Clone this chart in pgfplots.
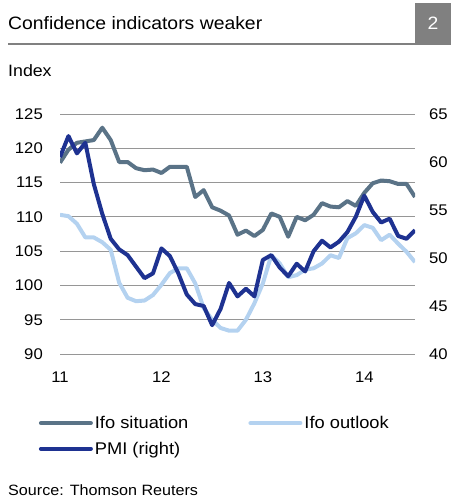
\documentclass[border=0pt]{standalone}
\usepackage{fontspec}
\setmainfont{Liberation Sans}[FakeStretch=1.08]
\usepackage{pgfplots}
\pgfplotsset{compat=1.18}
\definecolor{sit}{RGB}{90,115,135}
\definecolor{outl}{RGB}{180,210,240}
\definecolor{pmi}{RGB}{30,50,145}
\definecolor{gridc}{RGB}{150,150,150}
\definecolor{boxc}{RGB}{128,128,128}
\pgfplotstableread{
i v
0 117.9
1 119.8
2 120.8
3 121.0
4 121.2
5 123.0
6 121.2
7 118.0
8 118.0
9 117.1
10 116.8
11 116.9
12 116.4
13 117.3
14 117.3
15 117.3
16 112.9
17 113.9
18 111.4
19 110.9
20 110.2
21 107.4
22 108.0
23 107.2
24 108.1
25 110.5
26 110.0
27 107.1
28 110.0
29 109.5
30 110.3
31 112.0
32 111.5
33 111.4
34 112.3
35 111.6
36 113.5
37 114.9
38 115.3
39 115.2
40 114.8
41 114.8
42 112.9
}\situation
\pgfplotstableread{
i v
0 110.3
1 110.1
2 109.0
3 107.0
4 107.0
5 106.3
6 105.2
7 100.4
8 98.2
9 97.7
10 97.8
11 98.6
12 100.1
13 101.8
14 102.5
15 102.5
16 100.3
17 96.7
18 95.0
19 93.8
20 93.4
21 93.4
22 95.0
23 97.4
24 100.3
25 104.4
26 103.2
27 101.2
28 101.5
29 102.3
30 102.5
31 103.2
32 104.4
33 104.0
34 106.9
35 107.6
36 108.8
37 108.4
38 106.6
39 107.4
40 106.1
41 104.9
42 103.4
}\outlook
\pgfplotstableread{
i v
0 60.5
1 62.7
2 60.9
3 62.0
4 57.7
5 54.6
6 52.0
7 50.9
8 50.3
9 49.1
10 47.9
11 48.4
12 51.0
13 50.2
14 48.4
15 46.2
16 45.2
17 45.0
18 43.0
19 44.7
20 47.4
21 46.0
22 46.8
23 46.0
24 49.8
25 50.3
26 49.0
27 48.1
28 49.4
29 48.6
30 50.7
31 51.8
32 51.1
33 51.7
34 52.7
35 54.3
36 56.5
37 54.8
38 53.7
39 54.1
40 52.3
41 52.0
42 52.9
}\pmi
\begin{document}
\begin{tikzpicture}
\useasboundingbox (0bp,0bp) rectangle (451bp,-498bp);
\node[anchor=base west, inner sep=0, font=\fontsize{18}{20}\selectfont] at (8bp,-29bp) {Confidence indicators weaker};
\draw[boxc, line width=1.5bp] (8bp,-44bp) -- (415bp,-44bp);
\fill[boxc] (415bp,-3bp) rectangle (451bp,-45bp);
\node[anchor=base, inner sep=0, text=white, font=\fontsize{18}{20}\selectfont] at (433bp,-29bp) {2};
\node[anchor=base west, inner sep=0, font=\fontsize{16.5}{20}\selectfont] at (8bp,-76bp) {Index};
\node[anchor=base west, inner sep=0, font=\fontsize{15}{18}\selectfont] at (8bp,-495bp) {Source: Thomson Reuters};
\begin{axis}[
  name=ax,
  at={(60bp,-354bp)}, anchor=south west,
  scale only axis, width=355bp, height=240bp,
  xmin=0, xmax=42, ymin=90, ymax=125,
  axis line style={draw=none},
  ytick={90,95,...,125},
  xtick={0,12,24,36}, xticklabels={11,12,13,14},
  major tick length=0pt,
  ymajorgrids, grid style={gridc, line width=1bp},
  /pgf/number format/assume math mode=true,
  tick label style={font=\fontsize{15.5}{18}\selectfont},
  yticklabel style={inner sep=0pt, xshift=-17bp},
  xticklabel style={inner sep=0pt, yshift=-18bp},
  legend style={draw=none, fill=none, at={(-0.06,-0.25)}, anchor=north west,
    legend columns=2, font=\fontsize{17}{19}\selectfont,
    /tikz/every even column/.append style={column sep=58bp},
    row sep=8bp, inner sep=0pt},
  legend cell align=left,
  legend image code/.code={\draw[#1, line width=4bp, line cap=round] (0bp,0bp) -- (50bp,0bp);},
]
\addplot[sit, line width=4bp, line join=round] table[x=i,y=v] {\situation};
\addlegendentry{Ifo situation}
\addplot[outl, line width=4bp, line join=round] table[x=i,y=v] {\outlook};
\addlegendentry{Ifo outlook}
\addlegendimage{pmi, line width=4bp}
\addlegendentry{PMI (right)}
\end{axis}
\begin{axis}[
  at={(ax.south west)}, anchor=south west,
  scale only axis, width=355bp, height=240bp,
  xmin=0, xmax=42, ymin=40, ymax=65,
  xtick=\empty,
  axis line style={draw=none},
  ytick={40,45,...,65}, yticklabel pos=right,
  major tick length=0pt,
  /pgf/number format/assume math mode=true,
  tick label style={font=\fontsize{15.5}{18}\selectfont},
  yticklabel style={inner sep=0pt, xshift=14bp},
]
\addplot[pmi, line width=4bp, line join=round] table[x=i,y=v] {\pmi};
\end{axis}
\end{tikzpicture}
\end{document}
